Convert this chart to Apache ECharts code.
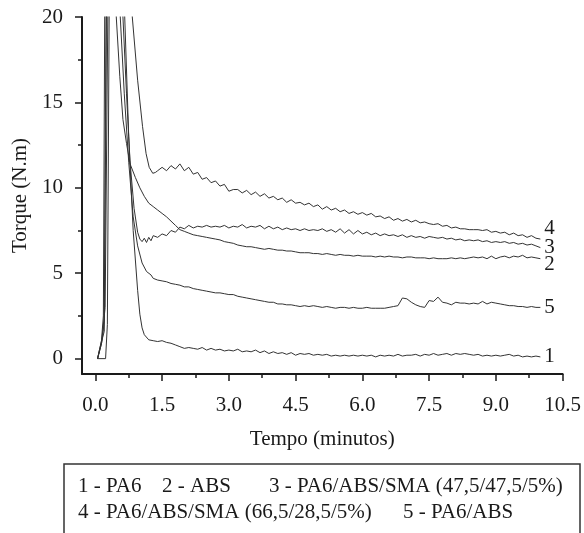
<!DOCTYPE html>
<html>
<head>
<meta charset="utf-8">
<title>Torque x Tempo</title>
<script src="https://cdn.jsdelivr.net/npm/echarts@6/dist/echarts.min.js"></script>
<style>
    html, body { margin: 0; padding: 0; background: #fff; }
    #chart { width: 584px; height: 533px; }
</style>
</head>
<body>
<div id="chart"></div>
<script>
//eixos
var xMajorTicks = [0, 1.5, 3, 4.5, 6, 7.5, 9, 10.5];
var xMinorTicks = [0.75, 2.25, 3.75, 5.25, 6.75, 8.25, 9.75];
var yMajorTicks = [0, 5, 10, 15, 20];
var yMinorTicks = [2.5, 7.5, 12.5, 17.5];
var curveTags = ['1', '2', '3', '4', '5'];
var legendItems = ['1 - PA6', '2 - ABS', '3 - PA6/ABS/SMA (47,5/47,5/5%)', '4 - PA6/ABS/SMA (66,5/28,5/5%)', '5 - PA6/ABS'];

//inicio das curvas (subida e queda do pico), pares [tempo, torque]
var head1 = [[0.05,0],[0.13,0.8],[0.18,2.5],[0.21,20],[0.4,45],[0.66,20],[0.75,13],[0.85,7.5],[0.95,4],[1.0,2.6],[1.05,1.8],[1.1,1.4],[1.2,1.1],[1.3,1.05]];
var head2 = [[0.05,0],[0.15,1],[0.2,2.2],[0.24,20],[0.35,40],[0.47,20],[0.55,16.5],[0.62,14],[0.7,12.6],[0.78,11.4],[0.9,10.6],[1.0,10.0],[1.1,9.5],[1.2,9.1],[1.3,8.9]];
var head3 = [[0.05,0],[0.1,0.6],[0.2,1.6],[0.25,20],[0.42,40],[0.62,20],[0.7,15.5],[0.78,11.5],[0.87,8.8],[0.95,7.4],[1.0,7.0],[1.05,6.85],[1.1,7.05],[1.15,6.8],[1.2,7.1],[1.25,6.9],[1.3,7.2]];
var head4 = [[0.05,0],[0.23,0],[0.27,2],[0.31,20],[0.55,50],[0.83,20],[0.95,16.3],[1.06,13.6],[1.14,12.0],[1.21,11.2],[1.29,10.85],[1.35,10.9]];
var head5 = [[0.05,0],[0.15,1.2],[0.22,3],[0.28,20],[0.42,40],[0.56,20],[0.65,15.5],[0.75,11.5],[0.85,8.3],[0.95,6.6],[1.05,5.6],[1.15,5.1],[1.25,4.9],[1.3,4.7]];

//resto das curvas, tempo de 1.4 a 10.0 min
var tailTime = [1.4,1.5,1.6,1.7,1.8,1.9,2.0,2.1,2.2,2.3,
    2.4,2.5,2.6,2.7,2.8,2.9,3.0,3.1,3.2,3.3,
    3.4,3.5,3.6,3.7,3.8,3.9,4.0,4.1,4.2,4.3,
    4.4,4.5,4.6,4.7,4.8,4.9,5.0,5.1,5.2,5.3,
    5.4,5.5,5.6,5.7,5.8,5.9,6.0,6.1,6.2,6.3,
    6.4,6.5,6.6,6.7,6.8,6.9,7.0,7.1,7.2,7.3,
    7.4,7.5,7.6,7.7,7.8,7.9,8.0,8.1,8.2,8.3,
    8.4,8.5,8.6,8.7,8.8,8.9,9.0,9.1,9.2,9.3,
    9.4,9.5,9.6,9.7,9.8,9.9,10.0];
var tail1 = [1.0,1.05,0.95,0.9,0.8,0.7,0.6,0.65,0.6,0.55,
    0.65,0.5,0.6,0.5,0.55,0.45,0.5,0.45,0.55,0.4,
    0.45,0.4,0.5,0.35,0.45,0.3,0.4,0.3,0.35,0.25,
    0.35,0.2,0.3,0.25,0.3,0.2,0.25,0.2,0.25,0.15,
    0.2,0.15,0.2,0.15,0.2,0.15,0.2,0.15,0.2,0.1,
    0.2,0.15,0.2,0.15,0.25,0.15,0.2,0.2,0.25,0.15,
    0.25,0.2,0.3,0.2,0.25,0.3,0.2,0.3,0.25,0.3,
    0.25,0.2,0.25,0.15,0.2,0.15,0.2,0.15,0.2,0.25,
    0.15,0.2,0.1,0.15,0.1,0.15,0.1];
var tail2 = [8.7,8.5,8.3,8.05,7.8,7.55,7.45,7.35,7.25,7.2,
    7.15,7.1,7.05,7.0,6.95,6.85,6.8,6.75,6.65,6.6,
    6.55,6.55,6.5,6.45,6.4,6.45,6.4,6.35,6.35,6.3,
    6.3,6.25,6.2,6.2,6.2,6.15,6.15,6.1,6.15,6.1,
    6.05,6.1,6.05,6.05,6.0,6.05,6.0,6.0,6.0,5.95,
    6.0,5.95,6.0,5.95,5.95,5.9,5.95,5.95,5.9,5.9,
    5.9,5.85,5.9,5.85,5.85,5.85,5.9,5.85,5.9,5.85,
    5.9,5.95,5.9,5.95,5.85,6.0,5.85,5.95,6.0,5.9,
    6.0,5.95,6.05,5.9,5.95,5.9,5.85];
var tail3 = [7.1,7.3,7.2,7.5,7.4,7.7,7.6,7.8,7.65,7.75,
    7.7,7.8,7.7,7.75,7.7,7.8,7.65,7.75,7.7,7.85,
    7.65,7.75,7.7,7.8,7.6,7.75,7.6,7.7,7.55,7.65,
    7.55,7.6,7.5,7.6,7.5,7.55,7.5,7.6,7.45,7.55,
    7.4,7.6,7.35,7.55,7.3,7.5,7.3,7.4,7.25,7.35,
    7.2,7.3,7.2,7.25,7.15,7.25,7.1,7.2,7.1,7.15,
    7.05,7.15,7.1,7.05,7.1,7.0,7.05,6.95,7.0,6.9,
    6.95,6.9,6.95,6.85,6.9,6.8,6.85,6.8,6.85,6.75,
    6.8,6.7,6.75,6.65,6.7,6.6,6.5];
var tail4 = [11.0,11.2,11.0,11.3,11.1,11.4,11.0,11.2,10.8,10.9,
    10.5,10.6,10.3,10.4,10.1,10.2,9.8,9.9,9.9,9.7,
    9.85,9.6,9.75,9.5,9.65,9.4,9.5,9.3,9.4,9.15,
    9.3,9.1,9.15,9.0,9.1,8.9,9.0,8.75,8.9,8.7,
    8.8,8.6,8.7,8.5,8.6,8.45,8.55,8.4,8.5,8.3,
    8.35,8.2,8.3,8.1,8.2,8.05,8.15,8.0,8.1,7.95,
    8.0,7.9,7.85,7.9,7.75,7.8,7.65,7.7,7.6,7.6,
    7.55,7.55,7.55,7.5,7.55,7.4,7.45,7.35,7.4,7.25,
    7.35,7.2,7.25,7.1,7.2,7.05,7.0];
var tail5 = [4.6,4.55,4.5,4.4,4.35,4.3,4.2,4.2,4.1,4.05,
    4.0,3.95,3.9,3.85,3.85,3.8,3.75,3.75,3.65,3.6,
    3.55,3.5,3.45,3.4,3.35,3.3,3.3,3.2,3.2,3.15,
    3.15,3.1,3.05,3.1,3.05,3.1,3.05,3.0,3.05,3.0,
    2.95,3.0,3.0,2.95,3.0,2.95,2.95,3.0,2.95,2.95,
    2.95,2.95,3.0,3.05,3.1,3.55,3.5,3.3,3.15,3.05,
    3.0,3.4,3.35,3.6,3.3,3.25,3.15,3.3,3.25,3.25,
    3.2,3.25,3.2,3.35,3.2,3.3,3.25,3.2,3.15,3.1,
    3.1,3.05,3.05,3.0,3.05,3.0,3.0];

var heads = [head1, head2, head3, head4, head5];
var tails = [tail1, tail2, tail3, tail4, tail5];
var tagOffsets = [[0, 0], [0, 6], [0, 0], [0, -11], [0, 0]];

var fontFamily = '"Liberation Serif", "Times New Roman", serif';
var ink = '#1a1a1a';

//junta inicio + resto em pares [x, y]
function buildCurve(head, tail) {
    var arr = head.slice();
    for (var i = 0; i < tailTime.length; i++) {
        arr.push([tailTime[i], tail[i]]);
    }
    return arr;
}

var series = [];
for (var k = 0; k < heads.length; k++) {
    series.push({
        name: legendItems[k],
        type: 'line',
        xAxisIndex: 0,
        yAxisIndex: 0,
        data: buildCurve(heads[k], tails[k]),
        showSymbol: false,
        symbol: 'none',
        clip: true,
        lineStyle: { color: '#333', width: 1 },
        endLabel: {
            show: true,
            formatter: curveTags[k],
            distance: 4,
            offset: tagOffsets[k],
            fontFamily: fontFamily,
            fontSize: 21,
            color: ink
        },
        silent: true
    });
}

var chart = echarts.init(document.getElementById('chart'));
var option = {
    animation: false,
    backgroundColor: '#fff',
    grid: { left: 82, right: 21, top: 17, bottom: 159 },
    xAxis: [{
        type: 'value',
        min: -0.3,
        max: 10.5,
        position: 'bottom',
        name: 'Tempo (minutos)',
        nameLocation: 'middle',
        nameGap: 55,
        nameTextStyle: { fontFamily: fontFamily, fontSize: 21, color: ink },
        axisLine: { show: true, onZero: false, lineStyle: { color: ink, width: 2 } },
        axisTick: { show: true, length: 7, customValues: xMajorTicks, lineStyle: { color: ink, width: 1.5 } },
        axisLabel: {
            customValues: xMajorTicks,
            margin: 21,
            fontFamily: fontFamily,
            fontSize: 21,
            color: ink,
            formatter: function (v) { return v.toFixed(1); }
        },
        splitLine: { show: false }
    }, {
        type: 'value',
        min: -0.3,
        max: 10.5,
        position: 'bottom',
        axisLine: { show: false, onZero: false },
        axisTick: { show: true, length: 4, customValues: xMinorTicks, lineStyle: { color: ink, width: 1.5 } },
        axisLabel: { show: false },
        splitLine: { show: false }
    }],
    yAxis: [{
        type: 'value',
        min: -0.9,
        max: 20,
        position: 'left',
        name: 'Torque (N.m)',
        nameLocation: 'middle',
        nameGap: 49,
        nameTextStyle: { fontFamily: fontFamily, fontSize: 21, color: ink },
        axisLine: { show: true, onZero: false, lineStyle: { color: ink, width: 2 } },
        axisTick: { show: true, length: 7, customValues: yMajorTicks, lineStyle: { color: ink, width: 1.5 } },
        axisLabel: { customValues: yMajorTicks, margin: 19, fontFamily: fontFamily, fontSize: 21, color: ink },
        splitLine: { show: false }
    }, {
        type: 'value',
        min: -0.9,
        max: 20,
        position: 'left',
        axisLine: { show: false, onZero: false },
        axisTick: { show: true, length: 4, customValues: yMinorTicks, lineStyle: { color: ink, width: 1.5 } },
        axisLabel: { show: false },
        splitLine: { show: false }
    }],
    //legenda em caixa, como na figura original
    graphic: [
        { type: 'rect', shape: { x: 64, y: 464, width: 516, height: 90 }, style: { fill: 'none', stroke: '#333', lineWidth: 1.5 } },
        { type: 'text', x: 78, y: 486, style: { text: legendItems[0], font: '21px ' + fontFamily, fill: ink, verticalAlign: 'middle' } },
        { type: 'text', x: 162, y: 486, style: { text: legendItems[1], font: '21px ' + fontFamily, fill: ink, verticalAlign: 'middle' } },
        { type: 'text', x: 269, y: 486, style: { text: legendItems[2], font: '21px ' + fontFamily, fill: ink, verticalAlign: 'middle' } },
        { type: 'text', x: 78, y: 512, style: { text: legendItems[3], font: '21px ' + fontFamily, fill: ink, verticalAlign: 'middle' } },
        { type: 'text', x: 403, y: 512, style: { text: legendItems[4], font: '21px ' + fontFamily, fill: ink, verticalAlign: 'middle' } }
    ],
    series: series
};
chart.setOption(option);
</script>
</body>
</html>
